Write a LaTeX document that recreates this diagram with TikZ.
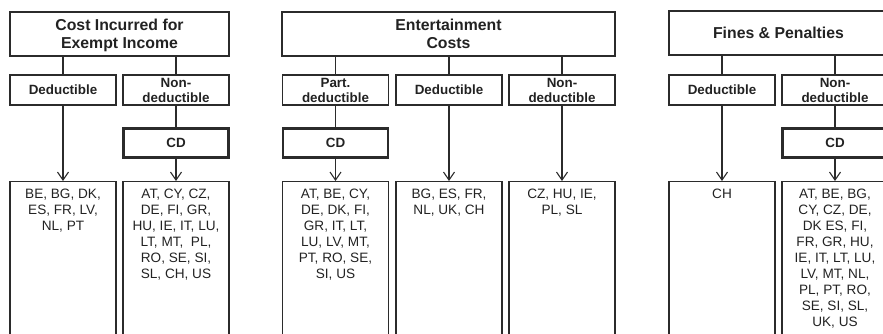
\documentclass[tikz,border=0pt]{standalone}
\usepackage{fontspec}
\setmainfont{Liberation Sans}
\usetikzlibrary{arrows.meta}
\definecolor{ink}{HTML}{2B2B2B}
\definecolor{txt}{HTML}{222222}
\begin{document}
\begin{tikzpicture}[x=1pt,y=-1pt,
  every node/.style={draw=ink, line width=1.1pt, align=center, text=txt, inner sep=1pt},
  headbox/.style={minimum height=44pt, text depth=0pt, font=\bfseries\fontsize{15.8}{18}\selectfont},
  subbox/.style={minimum width=106pt, minimum height=30pt, font=\bfseries\fontsize{13.4}{15}\selectfont},
  cdbox/.style={subbox, line width=2.3pt, minimum width=105pt, minimum height=29pt},
  listbox/.style={minimum width=106pt, minimum height=175pt, anchor=north},
  listtext/.style={draw=none, anchor=north, inner xsep=0pt, inner ysep=7.4pt,
    font=\fontsize{13.6}{16}\selectfont},
  link/.style={draw=ink, line width=1.1pt},
  arr/.style={link, -{Straight Barb[length=8pt,width=11pt,line width=1.1pt]}}
]
\useasboundingbox (0,0) rectangle (883,333);
\clip (0,0) rectangle (883,333);

% ---- Cost Incurred for Exempt Income ----
\node[headbox, minimum width=219pt] (h1) at (119.5,34) {Cost Incurred for\\Exempt Income};
\node[subbox] (a1) at (63,90) {Deductible};
\node[subbox] (a2) at (176,90) {Non-\\deductible};
\node[cdbox] (a2cd) at (176,143) {CD};
\node[listbox] (a1l) at (63,181) {};
\node[listbox] (a2l) at (176,181) {};
\node[listtext] (a1t) at (a1l.north) {BE, BG, DK,\\ES, FR, LV,\\NL, PT};
\node[listtext] (a2t) at (a2l.north) {AT, CY, CZ,\\DE, FI, GR,\\HU, IE, IT, LU,\\LT, MT,\ \ PL,\\RO, SE, SI,\\SL, CH, US};
\draw[link] (a1.north) -- (a1.north |- h1.south);
\draw[link] (a2.north) -- (a2.north |- h1.south);
\draw[link] (a2.south) -- (a2cd.north);
\draw[arr] (a1.south) -- (a1l.north);
\draw[arr] (a2cd.south) -- (a2l.north);

% ---- Entertainment Costs ----
\node[headbox, minimum width=333pt] (h2) at (448.5,34) {Entertainment\\Costs};
\node[subbox] (b1) at (335.5,90) {Part.\\deductible};
\node[subbox] (b2) at (449,90) {Deductible};
\node[subbox] (b3) at (562,90) {Non-\\deductible};
\node[cdbox] (b1cd) at (335.5,143) {CD};
\node[listbox] (b1l) at (335.5,181) {};
\node[listbox] (b2l) at (449,181) {};
\node[listbox] (b3l) at (562,181) {};
\node[listtext] (b1t) at (b1l.north) {AT, BE, CY,\\DE, DK, FI,\\GR, IT, LT,\\LU, LV, MT,\\PT, RO, SE,\\SI, US};
\node[listtext] (b2t) at (b2l.north) {BG, ES, FR,\\NL, UK, CH};
\node[listtext] (b3t) at (b3l.north) {CZ, HU, IE,\\PL, SL};
\draw[link] (b1.north) -- (b1.north |- h2.south);
\draw[link] (b2.north) -- (b2.north |- h2.south);
\draw[link] (b3.north) -- (b3.north |- h2.south);
\draw[link] (b1.south) -- (b1cd.north);
\draw[arr] (b1cd.south) -- (b1l.north);
\draw[arr] (b2.south) -- (b2l.north);
\draw[arr] (b3.south) -- (b3l.north);

% ---- Fines & Penalties ----
\node[headbox, minimum width=219pt] (h3) at (778.5,33) {Fines \& Penalties};
\node[subbox] (c1) at (722,90) {Deductible};
\node[subbox] (c2) at (835,90) {Non-\\deductible};
\node[cdbox] (c2cd) at (835,143) {CD};
\node[listbox] (c1l) at (722,181) {};
\node[listbox] (c2l) at (835,181) {};
\node[listtext] (c1t) at (c1l.north) {CH};
\node[listtext] (c2t) at (c2l.north) {AT, BE, BG,\\CY, CZ, DE,\\DK ES, FI,\\FR, GR, HU,\\IE, IT, LT, LU,\\LV, MT, NL,\\PL, PT, RO,\\SE, SI, SL,\\UK, US};
\draw[link] (c1.north) -- (c1.north |- h3.south);
\draw[link] (c2.north) -- (c2.north |- h3.south);
\draw[link] (c2.south) -- (c2cd.north);
\draw[arr] (c1.south) -- (c1l.north);
\draw[arr] (c2cd.south) -- (c2l.north);
\end{tikzpicture}
\end{document}
